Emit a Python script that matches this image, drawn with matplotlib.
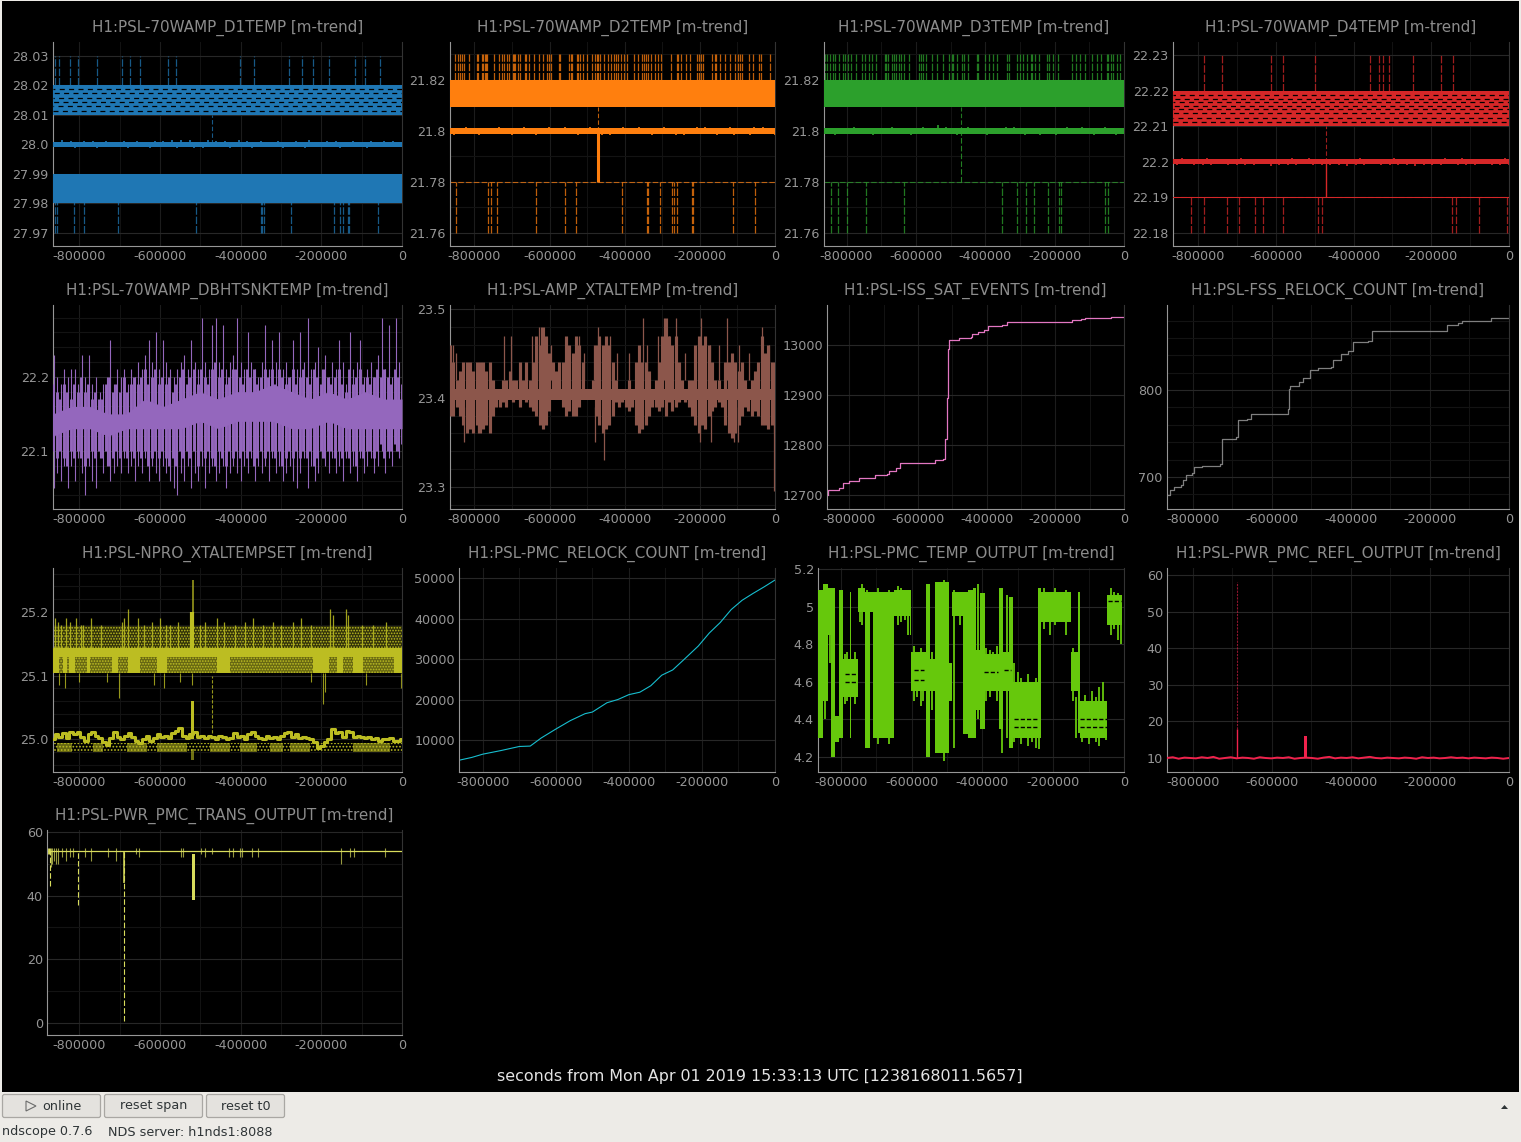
import numpy as np
import matplotlib
matplotlib.use("Agg")
import matplotlib.pyplot as plt
from matplotlib.patches import FancyBboxPatch, Rectangle, Polygon

W, H = 1521, 1142
XMIN = -865000
BLUE, ORANGE, GREEN, RED = "#1f77b4", "#ff7f0e", "#2ca02c", "#d62728"
PURPLE, BROWN, PINK, GRAY = "#9467bd", "#8c564b", "#e377c2", "#7f7f7f"
OLIVE, CYAN, LIME, ROSE, PALE = "#bcbd22", "#17becf", "#66c80c", "#f0224c", "#d8dc5c"

# --- top row: temperature traces, times in thousands of seconds, noise in 1e-4 degrees
d1_up_k = [-859, -851, -824, -802, -755, -695, -675, -650, -581, -559, -401, -368, -279, -249, -220, -182, -116, -91, -54]
d1_low_k = [-861, -855, -814, -787, -703, -511, -350, -347, -341, -275, -168, -153, -145, -135, -131, -59]
d1_rows = [28.0112, 28.0128, 28.0144, 28.0158, 28.0172, 28.0186]
d1_noise = [9, -10, 13, -8, 10, -12, 8, 12, -9, 10, -11, 8, 12, -10, 9, -8, 11, -13, 9, 10,
            -9, 8, -11, 12, -8, 10, -9, 14, -12, 15, -10, 13, -11, 9, -12, 13, -8, 10, -10, 12,
            -11, 9, 13, -9, 10, -12, 8, 11, -10, 9, -8, 12, -11, 9, -9, 10, 8, -11, 13, -10,
            9, -9, 11, -8, 10, -12, 9, -8, 12, -10, 8, -11, 10, -9, 8, 11, -9, 10, -10, 9]

d2_up_k = [-852, -843, -838, -834, -829, -815, -794, -790, -780, -776, -773, -770, -767, -747, -735, -727, -720, -713, -709,
           -698, -694, -692, -683, -679, -666, -662, -656, -642, -627, -617, -608, -602, -597, -575, -572, -549, -544, -541,
           -527, -523, -518, -510, -500, -487, -479, -475, -471, -465, -455, -445, -437, -429, -423, -417, -409, -403, -395,
           -375, -364, -354, -348, -344, -339, -329, -320, -311, -304, -276, -261, -258, -249, -238, -225, -207, -203, -196,
           -191, -169, -160, -156, -146, -132, -120, -106, -98, -93, -89, -69, -58, -43, -36, -13]
d2_low_k = [-850, -765, -757, -741, -637, -559, -530, -407, -341, -338, -306, -274, -268, -260, -220, -218, -111, -52]
d2_noise = [12, -14, 10, -13, 14, -10, 12, -15, 13, -11, 12, -13, 15, -10, 12, -14, 11, -12, 14, -11,
            12, -15, 11, -13, 14, -12, 10, -13, 15, -11, 12, -14, 13, -12, 16, -11, 13, -14, 12, -15,
            11, -13, 14, -12, 13, -11, 15, -13, 12, -14, 11, -12, 16, -13, 12, -14, 13, -15, 11, -12,
            14, -11, 16, -13, 12, -14, 13, -12, 15, -14, 11, -13, 12, -15, 14, -11, 15, -12, 13, -14]

d3_up_k = [-861, -857, -849, -839, -834, -823, -810, -805, -796, -786, -774, -755, -746, -735, -726, -714, -690, -685, -680,
           -669, -663, -656, -649, -644, -634, -620, -592, -586, -579, -570, -553, -539, -521, -504, -497, -493, -481, -466,
           -461, -449, -425, -420, -401, -390, -377, -365, -336, -332, -308, -300, -291, -281, -268, -265, -257, -245, -223,
           -215, -204, -190, -151, -137, -127, -113, -93, -79, -66, -50, -45, -38, -31, -21, -12]
d3_low_k = [-845, -826, -799, -743, -634, -353, -308, -282, -259, -218, -187, -181, -54, -45]
d3_noise = [11, -13, 12, -15, 10, -12, 13, -11, 14, -13, 11, -12, 13, -14, 12, -11, 13, -12, 14, -13,
            11, -12, 13, -14, 11, -13, 14, -11, 12, -13, 24, -12, 14, -11, 13, -14, 12, -11, 14, -13,
            11, -12, 13, -14, 12, -13, 11, -12, 14, -11, 15, -13, 12, -14, 11, -12, 13, -15, 11, -12,
            13, -14, 12, -11, 14, -13, 11, -12, 15, -13, 12, -14, 11, -13, 14, -12, 13, -14, 12, -11]

d4_up_k = [-785, -739, -612, -581, -499, -357, -334, -324, -308, -247, -174, -143]
d4_low_k = [-819, -785, -726, -695, -654, -633, -581, -491, -481, -146, -136, -76, -4]
d4_rows = [22.2113, 22.2124, 22.2136, 22.2148, 22.2158, 22.2168, 22.2178, 22.2188]
d4_noise = [8, -9, 11, -7, 9, -10, 8, -8, 10, -9, 8, -7, 9, -10, 7, -9, 10, -8, 9, -10,
            8, -7, 9, -11, 8, -9, 7, -8, 10, -9, 8, -7, 10, -8, 9, -10, 8, -9, 7, -8,
            9, -11, 8, -9, 10, -8, 9, -7, 8, -10, 9, -8, 10, -9, 7, -8, 9, -11, 8, -9,
            7, -10, 9, -8, 10, -7, 8, -9, 10, -8, 9, -10, 8, -7, 9, -9, 8, -10, 11, -9]

# --- heat sink temperature, thin spikes and the denser mass
dbh_hi = [22.23, 22.20, 22.19, 22.21, 22.20, 22.21, 22.21, 22.19, 22.23, 22.20, 22.23, 22.19, 22.20, 22.18, 22.19, 22.20, 22.25, 22.19, 22.21, 22.20,
          22.21, 22.19, 22.21, 22.20, 22.22, 22.21, 22.23, 22.25, 22.22, 22.26, 22.21, 22.25, 22.22, 22.21, 22.20, 22.21, 22.22, 22.23, 22.21, 22.25,
          22.22, 22.21, 22.28, 22.22, 22.21, 22.27, 22.28, 22.22, 22.27, 22.21, 22.22, 22.23, 22.28, 22.22, 22.21, 22.26, 22.22, 22.21, 22.20, 22.22,
          22.27, 22.21, 22.25, 22.22, 22.26, 22.21, 22.22, 22.20, 22.25, 22.21, 22.26, 22.22, 22.28, 22.21, 22.22, 22.24, 22.21, 22.23, 22.20, 22.22,
          22.21, 22.25, 22.22, 22.19, 22.26, 22.21, 22.22, 22.25, 22.20, 22.21, 22.22, 22.20, 22.23, 22.28, 22.21, 22.27, 22.20, 22.28, 22.22, 22.24]
dbh_lo = [22.05, 22.07, 22.06, 22.08, 22.05, 22.08, 22.06, 22.09, 22.07, 22.04, 22.08, 22.06, 22.05, 22.09, 22.07, 22.08, 22.06, 22.07, 22.08, 22.07,
          22.09, 22.07, 22.08, 22.06, 22.08, 22.07, 22.09, 22.06, 22.08, 22.07, 22.06, 22.08, 22.07, 22.06, 22.05, 22.04, 22.07, 22.06, 22.08, 22.05,
          22.07, 22.06, 22.08, 22.05, 22.07, 22.08, 22.06, 22.07, 22.08, 22.05, 22.07, 22.08, 22.07, 22.06, 22.08, 22.07, 22.09, 22.06, 22.08, 22.07,
          22.08, 22.06, 22.09, 22.07, 22.08, 22.06, 22.07, 22.08, 22.06, 22.05, 22.07, 22.09, 22.05, 22.08, 22.06, 22.07, 22.09, 22.08, 22.07, 22.09,
          22.07, 22.08, 22.06, 22.09, 22.07, 22.08, 22.06, 22.09, 22.07, 22.08, 22.09, 22.07, 22.08, 22.10, 22.07, 22.09, 22.08, 22.10, 22.09, 22.10]
dbh_mass_hi = [22.19, 22.18, 22.17, 22.19, 22.18, 22.17, 22.19, 22.18, 22.20, 22.18, 22.19, 22.17, 22.18, 22.17, 22.17, 22.19, 22.20, 22.18, 22.19, 22.18,
               22.20, 22.18, 22.19, 22.20, 22.19, 22.20, 22.21, 22.19, 22.20, 22.21, 22.19, 22.20, 22.19, 22.20, 22.18, 22.19, 22.20, 22.21, 22.19, 22.20,
               22.21, 22.19, 22.21, 22.20, 22.19, 22.21, 22.22, 22.20, 22.21, 22.19, 22.20, 22.21, 22.21, 22.20, 22.19, 22.21, 22.20, 22.21, 22.19, 22.20,
               22.21, 22.20, 22.21, 22.19, 22.21, 22.20, 22.19, 22.20, 22.21, 22.19, 22.20, 22.21, 22.20, 22.19, 22.21, 22.20, 22.19, 22.21, 22.20, 22.19,
               22.20, 22.21, 22.19, 22.18, 22.21, 22.19, 22.20, 22.21, 22.19, 22.20, 22.19, 22.20, 22.21, 22.20, 22.21, 22.20, 22.19, 22.21, 22.20, 22.19]
dbh_mass_lo = [22.10, 22.09, 22.10, 22.09, 22.08, 22.10, 22.09, 22.10, 22.09, 22.08, 22.09, 22.10, 22.09, 22.10, 22.09, 22.10, 22.08, 22.09, 22.10, 22.09,
               22.10, 22.09, 22.10, 22.09, 22.10, 22.09, 22.10, 22.08, 22.09, 22.10, 22.09, 22.10, 22.09, 22.08, 22.09, 22.08, 22.10, 22.09, 22.10, 22.09,
               22.10, 22.08, 22.10, 22.09, 22.10, 22.09, 22.08, 22.10, 22.09, 22.08, 22.10, 22.09, 22.10, 22.09, 22.10, 22.09, 22.10, 22.08, 22.09, 22.10,
               22.09, 22.10, 22.10, 22.09, 22.10, 22.08, 22.09, 22.10, 22.09, 22.10, 22.09, 22.10, 22.09, 22.10, 22.08, 22.09, 22.10, 22.09, 22.10, 22.10,
               22.09, 22.10, 22.09, 22.10, 22.09, 22.10, 22.08, 22.10, 22.09, 22.10, 22.10, 22.09, 22.10, 22.11, 22.09, 22.10, 22.10, 22.11, 22.10, 22.11]
dbh_core_hi = [22.15, 22.16, 22.16, 22.15, 22.15, 22.17, 22.16, 22.17, 22.18, 22.17, 22.18, 22.18, 22.19, 22.18, 22.17, 22.18, 22.17, 22.18, 22.17, 22.17]
dbh_core_lo = [22.12, 22.13, 22.13, 22.12, 22.13, 22.13, 22.13, 22.13, 22.14, 22.13, 22.14, 22.14, 22.14, 22.13, 22.13, 22.14, 22.13, 22.13, 22.13, 22.13]

# --- crystal temperature, high / low per sample
xtal_hi = [23.46, 23.44, 23.42, 23.43, 23.44, 23.44, 23.44, 23.43, 23.44, 23.44, 23.44, 23.43, 23.44, 23.42, 23.41, 23.41, 23.42, 23.42, 23.43, 23.42,
           23.42, 23.44, 23.42, 23.44, 23.42, 23.44, 23.47, 23.46, 23.48, 23.47, 23.45, 23.44, 23.43, 23.44, 23.44, 23.47, 23.46, 23.45, 23.47, 23.46,
           23.44, 23.41, 23.41, 23.42, 23.46, 23.47, 23.46, 23.47, 23.46, 23.44, 23.42, 23.41, 23.41, 23.41, 23.42, 23.41, 23.44, 23.46, 23.44, 23.44,
           23.43, 23.41, 23.42, 23.44, 23.47, 23.49, 23.47, 23.46, 23.47, 23.44, 23.42, 23.41, 23.42, 23.42, 23.46, 23.47, 23.46, 23.47, 23.46, 23.44,
           23.42, 23.42, 23.41, 23.44, 23.44, 23.45, 23.44, 23.43, 23.44, 23.42, 23.41, 23.42, 23.43, 23.44, 23.47, 23.45, 23.46, 23.44, 23.44]
xtal_lo = [23.38, 23.38, 23.39, 23.38, 23.37, 23.36, 23.365, 23.36, 23.37, 23.36, 23.365, 23.37, 23.36, 23.38, 23.39, 23.39, 23.395, 23.39, 23.40, 23.395,
           23.40, 23.39, 23.40, 23.395, 23.39, 23.385, 23.38, 23.37, 23.365, 23.37, 23.385, 23.40, 23.405, 23.40, 23.39, 23.38, 23.385, 23.38, 23.38, 23.39,
           23.40, 23.405, 23.41, 23.40, 23.38, 23.37, 23.36, 23.365, 23.37, 23.38, 23.395, 23.39, 23.395, 23.39, 23.385, 23.39, 23.37, 23.36, 23.365, 23.37,
           23.38, 23.39, 23.39, 23.385, 23.39, 23.38, 23.395, 23.385, 23.39, 23.395, 23.40, 23.395, 23.39, 23.38, 23.37, 23.36, 23.37, 23.365, 23.38, 23.385,
           23.39, 23.395, 23.39, 23.37, 23.36, 23.355, 23.36, 23.37, 23.38, 23.39, 23.385, 23.38, 23.385, 23.38, 23.37, 23.37, 23.365, 23.37, 23.36]
xtal_up_k = [-858, -850, -722, -702, -646, -629, -622, -595, -522, -508, -482, -471, -440, -420, -388, -352, -340, -312, -295, -282, -263, -240, -198, -174, -150, -128, -95, -70, -34, -17]
xtal_up = [23.46, 23.45, 23.47, 23.47, 23.47, 23.48, 23.48, 23.46, 23.47, 23.45, 23.46, 23.48, 23.47, 23.45, 23.45, 23.49, 23.46, 23.47, 23.49, 23.47, 23.49, 23.45, 23.49, 23.46, 23.46, 23.49, 23.46, 23.45, 23.48, 23.46]
xtal_down_k = [-829, -790, -480, -455, -200, -170, -110, -98, -3]
xtal_down = [23.35, 23.36, 23.35, 23.33, 23.35, 23.35, 23.35, 23.35, 23.295]

# --- counters, values at each step
sat_k = [-865, -861, -831, -818, -802, -773, -730, -725, -689, -685, -663, -651, -559, -550, -527, -521, -520, -515, -513, -510,
         -482, -447, -443, -426, -408, -396, -356, -342, -154, -152, -126, -115, -41, -39, 0]
sat_val = [12700, 12711, 12714, 12724, 12729, 12734, 12735, 12740, 12742, 12749, 12755, 12764, 12764, 12770, 12773, 12777, 12813, 12894, 12993, 13010,
           13015, 13017, 13023, 13027, 13030, 13038, 13041, 13046, 13046, 13050, 13052, 13054, 13054, 13056, 13056]
fss_k = [-865, -858, -847, -830, -824, -816, -802, -796, -776, -731, -727, -690, -685, -662, -653, -560, -556, -553, -531, -522,
         -503, -483, -449, -446, -426, -408, -395, -356, -346, -157, -130, -119, -46, 0]
fss_val = [679, 685, 688, 691, 696, 702, 704, 711, 713, 715, 744, 746, 765, 767, 773, 778, 801, 805, 809, 814,
           823, 826, 827, 835, 841, 845, 855, 856, 868, 875, 877, 879, 883, 883]
pmc_k = [-865, -830, -800, -750, -700, -670, -640, -600, -560, -520, -500, -460, -430, -400, -370, -340, -310, -280, -250, -210, -180, -150, -120, -90, -60, -30, 0]
pmc_val = [5000, 5700, 6500, 7400, 8400, 8500, 10500, 12700, 14800, 16500, 16900, 19200, 20000, 21200, 21800, 23400, 26000, 27300, 29800, 33200, 36400, 39000, 42200, 44500, 46200, 47800, 49500]

# --- NPRO set temperature
npro_blocks_k = [(-864, -851), (-839, -831), (-826, -810), (-781, -773), (-719, -703), (-678, -649), (-608, -583), (-459, -426), (-220, -182), (-162, -145), (-121, -96), (-21, 0)]
npro_low_blocks_k = [(-855, -818), (-765, -740), (-682, -632), (-608, -533), (-476, -426), (-401, -360), (-327, -294), (-277, -228), (-121, -30)]
npro_up_k = [-860, -853, -845, -833, -822, -808, -796, -790, -770, -745, -695, -688, -680, -655, -640, -620, -600, -585, -575, -555, -500, -488, -458, -440, -415, -390, -370, -345, -320, -300, -270, -250, -225, -178, -172, -140, -133, -100, -72, -40]
npro_up = [25.19, 25.185, 25.18, 25.19, 25.185, 25.19, 25.18, 25.18, 25.19, 25.18, 25.185, 25.19, 25.205, 25.19, 25.18, 25.185, 25.19, 25.18, 25.18, 25.185, 25.18, 25.185, 25.19, 25.185, 25.18, 25.185, 25.19, 25.18, 25.185, 25.18, 25.185, 25.19, 25.18, 25.205, 25.195, 25.205, 25.195, 25.18, 25.18, 25.185]
npro_down_k = [-850, -835, -800, -730, -702, -615, -590, -550, -520, -225, -197, -190, -90, -2]
npro_down = [25.085, 25.08, 25.09, 25.09, 25.065, 25.085, 25.08, 25.09, 25.085, 25.09, 25.055, 25.075, 25.085, 25.08]
npro_mid = [25.000, 25.008, 25.004, 25.010, 25.002, 25.011, 25.008, 25.012, 25.004, 24.998, 25.008, 25.012, 25.006, 25.002, 24.996, 24.992, 25.003, 25.012, 25.004, 25.000,
            25.006, 25.010, 25.004, 24.998, 24.994, 25.000, 25.006, 24.998, 25.002, 25.008, 25.004, 25.006, 25.002, 25.010, 25.014, 25.018, 25.006, 25.002, 25.008, 25.012,
            25.004, 25.006, 25.002, 25.006, 25.004, 25.000, 25.006, 25.004, 25.000, 25.002, 25.010, 25.004, 25.006, 25.000, 25.008, 25.012, 25.006, 25.002, 25.000, 25.006,
            25.002, 25.004, 25.000, 25.006, 25.010, 25.012, 25.004, 25.008, 25.002, 25.004, 25.002, 25.000, 24.996, 24.986, 24.990, 24.996, 25.000, 25.016, 25.010, 25.012, 25.004,
            25.014, 25.012, 25.004, 25.006, 25.004, 25.002, 25.004, 25.000, 25.002, 24.998, 25.000, 25.000, 25.002, 24.998, 24.998, 25.000]

# --- PMC temperature output, blocks of high / low and the loose lines at their edges
pzt_edges_k = [-865, -851, -837, -827, -818, -806, -794, -775, -771, -752, -733, -719, -710, -649, -606, -602, -561, -548, -533, -495, -486, -456, -442,
               -428, -418, -407, -394, -353, -341, -324, -313, -243, -234, -150, -129, -125, -47, -5]
pzt_lo = [4.30, 4.50, 4.85, 4.20, 4.28, 4.30, 4.52, 4.30, 4.52, 4.97, 4.25, 4.97, 4.30, 4.95, 4.85, 4.55, 4.20, 4.55, 4.22, 4.50, 4.95, 4.32, 4.30,
          4.30, 4.45, 4.35, 4.55, 4.35, 4.55, 4.25, 4.30, 4.30, 4.92, 4.55, 4.33, 4.30, 4.90]
pzt_hi = [5.09, 5.12, 5.10, 5.10, 4.42, 5.09, 4.72, 5.08, 4.72, 5.10, 5.08, 5.08, 5.08, 5.09, 5.09, 4.76, 5.12, 4.72, 5.13, 4.70, 5.08, 5.08, 5.09,
          5.10, 4.77, 5.07, 4.75, 5.10, 4.76, 5.05, 4.60, 5.10, 5.08, 4.76, 5.08, 4.50, 5.06]
pzt_fuzz_k = [-858, -845, -832, -790, -783, -760, -745, -740, -727, -695, -680, -665, -640, -630, -620, -612, -595, -585, -575, -568, -555, -542,
              -525, -510, -480, -465, -450, -412, -390, -380, -370, -360, -345, -330, -310, -300, -290, -280, -270, -260, -250, -240,
              -225, -210, -195, -180, -165, -145, -135, -120, -110, -100, -90, -80, -70, -60, -50, -38, -28, -18, -8]
pzt_fuzz_lo = [4.55, 4.40, 4.70, 4.48, 4.50, 4.48, 4.92, 4.90, 4.25, 4.27, 4.30, 4.27, 4.90, 4.92, 4.93, 4.85, 4.50, 4.52, 4.47, 4.50, 4.20, 4.45,
               4.27, 4.18, 4.25, 4.90, 4.85, 4.40, 4.50, 4.52, 4.55, 4.50, 4.22, 4.30, 4.28, 4.30, 4.27, 4.30, 4.26, 4.28, 4.25, 4.24,
               4.88, 4.85, 4.90, 4.92, 4.85, 4.50, 4.30, 4.28, 4.30, 4.27, 4.30, 4.28, 4.26, 4.30, 4.29, 4.85, 4.88, 4.82, 4.80]
pzt_fuzz_hi = [5.07, 5.12, 5.09, 4.75, 4.76, 4.76, 5.10, 5.12, 5.09, 5.10, 5.08, 5.09, 5.11, 5.10, 5.08, 5.09, 4.79, 4.75, 4.78, 4.75, 5.12, 4.76,
               5.13, 5.14, 5.09, 5.08, 5.08, 5.12, 4.78, 4.77, 4.76, 4.79, 5.10, 5.06, 4.70, 4.65, 4.62, 4.60, 4.64, 4.60, 4.62, 4.58,
               5.10, 5.08, 5.10, 5.08, 5.09, 4.78, 4.52, 4.50, 4.53, 4.50, 4.55, 4.52, 4.57, 4.60, 4.50, 5.10, 5.08, 5.07, 5.05]
pzt_slit_k = [(-790, -755), (-790, -755), (-595, -565), (-595, -565), (-395, -355), (-340, -320), (-310, -245), (-310, -245), (-125, -48), (-125, -48), (-45, -8)]
pzt_slit_y = [4.64, 4.60, 4.66, 4.61, 4.65, 4.66, 4.40, 4.36, 4.40, 4.36, 5.03]

# --- PMC powers
refl_mid = [10.0, 10.2, 9.8, 10.1, 10.0, 9.9, 10.2, 10.0, 10.3, 9.8, 10.0, 10.2, 9.9, 10.1, 10.0, 9.8, 10.2, 10.0, 9.9, 10.1,
            10.0, 10.2, 9.8, 10.0, 10.1, 10.0, 9.8, 10.1, 10.3, 9.9, 10.1, 10.0, 10.2, 9.9, 10.1, 10.3, 10.0, 9.9, 10.1, 10.0,
            9.9, 10.1, 10.0, 9.8, 10.2, 10.0, 10.1, 9.9, 10.0, 10.2, 10.0, 10.1, 9.9, 10.1, 10.0, 9.9, 10.1, 10.0, 9.8, 10.0]
trans_stub_k = [-871, -867, -862, -857, -852, -843, -832, -822, -815, -785, -770, -728, -709, -660, -652, -548, -542, -498, -489, -470, -430, -420, -402, -396, -372, -358, -152, -129, -118, -43]
trans_stub = [49, 50, 51, 50, 50, 52, 51, 52, 52, 52, 51, 52, 51, 53, 52, 52, 52, 53, 52, 53, 52, 52, 52, 52, 52, 52, 50, 52, 52, 52]
trans_dash_k = [-873, -802, -688]
trans_dash = [43, 37, 0.5]

# --- panel tables
titles = ["H1:PSL-70WAMP_D1TEMP [m-trend]", "H1:PSL-70WAMP_D2TEMP [m-trend]", "H1:PSL-70WAMP_D3TEMP [m-trend]", "H1:PSL-70WAMP_D4TEMP [m-trend]",
          "H1:PSL-70WAMP_DBHTSNKTEMP [m-trend]", "H1:PSL-AMP_XTALTEMP [m-trend]", "H1:PSL-ISS_SAT_EVENTS [m-trend]", "H1:PSL-FSS_RELOCK_COUNT [m-trend]",
          "H1:PSL-NPRO_XTALTEMPSET [m-trend]", "H1:PSL-PMC_RELOCK_COUNT [m-trend]", "H1:PSL-PMC_TEMP_OUTPUT [m-trend]", "H1:PSL-PWR_PMC_REFL_OUTPUT [m-trend]",
          "H1:PSL-PWR_PMC_TRANS_OUTPUT [m-trend]"]
boxes = [(53, 42, 402, 246), (450, 42, 775, 246), (824, 42, 1124, 246), (1173, 42, 1509, 246),
         (53, 305, 402, 509), (450, 305, 775, 509), (827, 305, 1124, 509), (1167, 305, 1509, 509),
         (53, 568, 402, 772), (459, 568, 775, 772), (818, 568, 1124, 772), (1167, 568, 1509, 772),
         (47, 830, 402, 1035)]
ylims = [(27.9656, 28.0346), (21.7549, 21.8349), (21.7549, 21.8349), (22.1763, 22.2337),
         (22.0216, 22.297), (23.275, 23.5045), (12672, 13080), (663, 898),
         (24.949, 25.269), (2100, 52470), (4.12, 5.205), (6.17, 61.9), (-3.75, 60.6)]
yticks = [[27.97, 27.98, 27.99, 28.0, 28.01, 28.02, 28.03], [21.76, 21.78, 21.8, 21.82], [21.76, 21.78, 21.8, 21.82],
          [22.18, 22.19, 22.2, 22.21, 22.22, 22.23], [22.1, 22.2], [23.3, 23.4, 23.5], [12700, 12800, 12900, 13000], [700, 800],
          [25.0, 25.1, 25.2], [10000, 20000, 30000, 40000, 50000], [4.2, 4.4, 4.6, 4.8, 5, 5.2], [10, 20, 30, 40, 50, 60], [0, 20, 40, 60]]
yminor = [[], [21.77, 21.79, 21.81, 21.83], [21.77, 21.79, 21.81, 21.83], [],
          [22.04, 22.06, 22.08, 22.12, 22.14, 22.16, 22.18, 22.22, 22.24, 22.26, 22.28],
          [23.28, 23.32, 23.34, 23.36, 23.38, 23.42, 23.44, 23.46, 23.48], [],
          [680, 720, 740, 760, 780, 820, 840, 860, 880],
          [24.96, 24.98, 25.02, 25.04, 25.06, 25.08, 25.12, 25.14, 25.16, 25.18, 25.22, 25.24, 25.26],
          [], [], [], [10, 30, 50]]
xticks = [-800000, -600000, -400000, -200000, 0]
xminor = [-700000, -500000, -300000, -100000]


def k(vals):
    return np.array(vals) * 1000.0


def samples(vals):
    return np.linspace(XMIN, 0, len(vals))


def temp_panel(ax, color, centre, core, band_up, band_low, noise, up_k, low_k, up_top, low_bot, rows=()):
    ax.fill_between([XMIN, 0], band_up[0], band_up[1], color=color, lw=0, zorder=3)
    ax.fill_between([XMIN, 0], band_low[0], band_low[1], color=color, lw=0, zorder=3)
    for n, r in enumerate(rows):
        ax.hlines(r, XMIN, 0, color="black", lw=0.9, linestyles=(n * 3.5, (4, 3.5)), zorder=4)
    ax.fill_between([XMIN, 0], centre - core, centre + core, color=color, lw=0, zorder=3)
    ax.vlines(samples(noise), centre, centre + np.array(noise) * 1e-4, color=color, lw=1.2, zorder=3)
    ax.vlines(k(up_k), band_up[1], up_top, color=color, lw=0.9, alpha=0.75, linestyles=(0, (6, 1.5)), zorder=2)
    ax.vlines(k(low_k), low_bot, band_low[1], color=color, lw=0.9, alpha=0.75, linestyles=(0, (6, 1.5)), zorder=2)
    ax.vlines(-470000, centre, band_up[0], color=color, lw=0.8, alpha=0.75, linestyles=(0, (4, 2)), zorder=2)


plt.rcParams["font.family"] = "DejaVu Sans"
plt.rcParams["hatch.linewidth"] = 0.8
fig = plt.figure(figsize=(W / 100, H / 100), dpi=100, facecolor="#edebe7")

ui = fig.add_axes([0, 0, 1, 1], zorder=-1)
ui.set_xlim(0, W)
ui.set_ylim(H, 0)
ui.axis("off")
ui.add_patch(Rectangle((2, 1), W - 4, 1091, color="black", lw=0))

axes = []
for i, (l, t, r, b) in enumerate(boxes):
    ax = fig.add_axes([l / W, 1 - b / H, (r - l) / W, (b - t) / H], facecolor="black")
    ax.set_xlim(-880000 if i == 12 else XMIN, 0)
    ax.set_ylim(*ylims[i])
    ax.set_xticks(xticks, labels=[str(x) for x in xticks])
    ax.set_xticks(xminor, minor=True)
    ax.set_yticks(yticks[i], labels=[str(y) for y in yticks[i]])
    ax.set_yticks(yminor[i], minor=True)
    ax.tick_params(which="both", length=0, colors="#969696", labelsize=9.2, pad=3)
    ax.grid(axis="x", which="major", color="#1c1c1c", lw=0.8)
    ax.grid(axis="x", which="minor", color="#121212", lw=0.8)
    ax.grid(axis="y", which="major", color="#272727", lw=0.8)
    ax.grid(axis="y", which="minor", color="#131313", lw=0.8)
    ax.set_axisbelow(True)
    ax.spines["top"].set_visible(False)
    ax.spines["right"].set_color("#333333")
    ax.spines["left"].set_color("#969696")
    ax.spines["bottom"].set_color("#969696")
    ax.set_title(titles[i], color="#8c8c8c", fontsize=10.9, pad=7)
    axes.append(ax)

# top row
temp_panel(axes[0], BLUE, 28.0, 0.0009, (28.01, 28.02), (27.98, 27.99), d1_noise, d1_up_k, d1_low_k, 28.03, 27.97, rows=d1_rows)
temp_panel(axes[1], ORANGE, 21.8, 0.001, (21.8095, 21.82), (21.7799, 21.7801), d2_noise, d2_up_k, d2_low_k, 21.83, 21.76)
axes[1].hlines(21.78, XMIN, 0, color=ORANGE, lw=0.8, alpha=0.7, linestyles=(0, (5, 2)))
axes[1].vlines(-470000, 21.78, 21.8, color=ORANGE, lw=2.2, zorder=3)
temp_panel(axes[2], GREEN, 21.8, 0.001, (21.8095, 21.82), (21.7799, 21.7801), d3_noise, d3_up_k, d3_low_k, 21.83, 21.76)
axes[2].hlines(21.78, XMIN, 0, color=GREEN, lw=0.8, alpha=0.7, linestyles=(0, (5, 2)))
axes[2].vlines(-469000, 21.78, 21.8, color=GREEN, lw=0.8, alpha=0.8, linestyles=(0, (5, 2)))
temp_panel(axes[3], RED, 22.2, 0.0007, (22.21, 22.22), (22.1899, 22.1901), d4_noise, d4_up_k, d4_low_k, 22.23, 22.18, rows=d4_rows)
axes[3].hlines(22.19, XMIN, 0, color=RED, lw=0.8, alpha=0.6, linestyles=(0, (5, 2)))
axes[3].vlines(-471000, 22.19, 22.2, color=RED, lw=1.0, zorder=3)

# heat sink
ax = axes[4]
ax.vlines(samples(dbh_hi) + 1700, dbh_lo, dbh_hi, color=PURPLE, lw=0.8, zorder=3)
ax.vlines(samples(dbh_mass_hi), dbh_mass_lo, dbh_mass_hi, color=PURPLE, lw=2.1, zorder=3)
ax.fill_between(samples(dbh_core_hi), dbh_core_lo, dbh_core_hi, color=PURPLE, lw=0, zorder=3)

# crystal
ax = axes[5]
ax.vlines(samples(xtal_hi), xtal_lo, xtal_hi, color=BROWN, lw=2.25, zorder=3)
ax.fill_between([XMIN, 0], 23.398, 23.41, color=BROWN, lw=0, zorder=3)
ax.vlines(k(xtal_up_k), 23.42, xtal_up, color=BROWN, lw=0.9, zorder=3)
ax.vlines(k(xtal_down_k), 23.39, xtal_down, color=BROWN, lw=0.9, zorder=3)

# counters
axes[6].plot(k(sat_k), sat_val, color=PINK, lw=0.9, drawstyle="steps-post")
axes[7].plot(k(fss_k), fss_val, color=GRAY, lw=0.9, drawstyle="steps-post")
axes[9].plot(k(pmc_k), pmc_val, color=CYAN, lw=0.8)

# npro
ax = axes[8]
ax.fill_between([XMIN, 0], 25.143, 25.178, facecolor=(0.74, 0.74, 0.13, 0.25), edgecolor=OLIVE, hatch="......", lw=0, zorder=2)
ax.fill_between([XMIN, 0], 25.104, 25.13, facecolor=(0.74, 0.74, 0.13, 0.55), edgecolor=OLIVE, hatch="......", lw=0, zorder=2)
ax.fill_between([XMIN, 0], 25.13, 25.143, color=OLIVE, lw=0, zorder=3)
ax.fill_between([XMIN, 0], 24.98, 24.995, facecolor="none", edgecolor=OLIVE, hatch=".....", lw=0, zorder=2)
for a, b in npro_blocks_k:
    ax.fill_between(k([a, b]), 25.104, 25.13, color=OLIVE, lw=0, zorder=3)
for a, b in npro_low_blocks_k:
    ax.fill_between(k([a, b]), 24.98, 24.995, color=OLIVE, alpha=0.55, lw=0, zorder=2)
ax.vlines(k(npro_up_k), 25.14, npro_up, color=OLIVE, lw=0.9, alpha=0.85, zorder=2)
ax.vlines(k(npro_down_k), 25.104, npro_down, color=OLIVE, lw=0.8, alpha=0.8, zorder=2)
ax.plot(samples(npro_mid), npro_mid, color=OLIVE, lw=2.2, drawstyle="steps-mid", zorder=3)
ax.vlines(-520000, 25.14, 25.2, color=OLIVE, lw=3, zorder=3)
ax.vlines(-519000, 25.2, 25.25, color=OLIVE, lw=1.2, alpha=0.8, zorder=3)
ax.fill_between(k([-524, -515]), 25.0, 25.06, color=OLIVE, lw=0, zorder=3)
ax.fill_between(k([-524, -515]), 24.968, 24.985, color=OLIVE, alpha=0.6, lw=0, zorder=3)
ax.vlines(-470000, 25.01, 25.1, color=OLIVE, lw=0.8, alpha=0.8, linestyles=(0, (3, 1.5)))

# pmc temp
ax = axes[10]
ax.stairs(pzt_hi, k(pzt_edges_k), baseline=pzt_lo, fill=True, color=LIME, lw=0, zorder=3)
ax.vlines(k(pzt_fuzz_k), pzt_fuzz_lo, pzt_fuzz_hi, color=LIME, lw=1.3, zorder=3)
for (a, b), y in zip(pzt_slit_k, pzt_slit_y):
    ax.hlines(y, a * 1000, b * 1000, color="black", lw=1.0, linestyles=(0, (3, 1.5)), zorder=4)

# reflected
ax = axes[11]
ax.plot(samples(refl_mid), refl_mid, color=ROSE, lw=1.4, zorder=3)
ax.vlines(-688000, 10, 18, color=ROSE, lw=1.0, zorder=3)
ax.vlines(-688000, 18, 58, color=ROSE, lw=0.8, alpha=0.6, linestyles=(0, (2, 1)), zorder=3)
ax.fill_between(k([-519, -511]), 10, 16, color=ROSE, lw=0, zorder=3)

# transmitted
ax = axes[12]
ax.hlines(54, -878000, 0, color=PALE, lw=0.9, zorder=3)
ax.vlines(k(trans_stub_k), trans_stub, 55, color=PALE, lw=0.8, alpha=0.7, zorder=3)
ax.vlines(k(trans_dash_k), trans_dash, 54, color=PALE, lw=0.8, linestyles=(0, (5, 2)), zorder=3)
ax.vlines(-688000, 44, 54, color=PALE, lw=1.1, zorder=3)
ax.fill_between(k([-521, -512]), 38.5, 53, color=PALE, lw=0, zorder=3)
ax.vlines(-876000, 53, 55, color=PALE, lw=2, zorder=3)

# bottom label and the window strip
ui.text(760, 1076, "seconds from Mon Apr 01 2019 15:33:13 UTC [1238168011.5657]", color="#e4e4e4", fontsize=11.4, ha="center", va="center")
for bx0, bx1, label, tx in [(2, 101, "online", 62), (104, 203, "reset span", 154), (206, 285, "reset t0", 246)]:
    ui.add_patch(FancyBboxPatch((bx0 + 0.5, 1094.5), bx1 - bx0 - 1, 23, boxstyle="round,pad=0,rounding_size=2",
                                facecolor="#e4e2de", edgecolor="#a9a7a3", lw=0.9))
    ui.text(tx, 1106, label, color="#2e3436", fontsize=9.2, ha="center", va="center")
ui.add_patch(Polygon([(26, 1101), (26, 1111), (36, 1106)], closed=True, facecolor="none", edgecolor="#6c6c6c", lw=0.8))
ui.add_patch(Polygon([(1501, 1109), (1508, 1109), (1504.5, 1105)], closed=True, facecolor="#2e3436", edgecolor="none"))
ui.text(2, 1132, "ndscope 0.7.6", color="#2e3436", fontsize=9.2, ha="left", va="center")
ui.text(108, 1132, "NDS server: h1nds1:8088", color="#2e3436", fontsize=9.2, ha="left", va="center")

fig.savefig("out.png", dpi=100, facecolor=fig.get_facecolor())
